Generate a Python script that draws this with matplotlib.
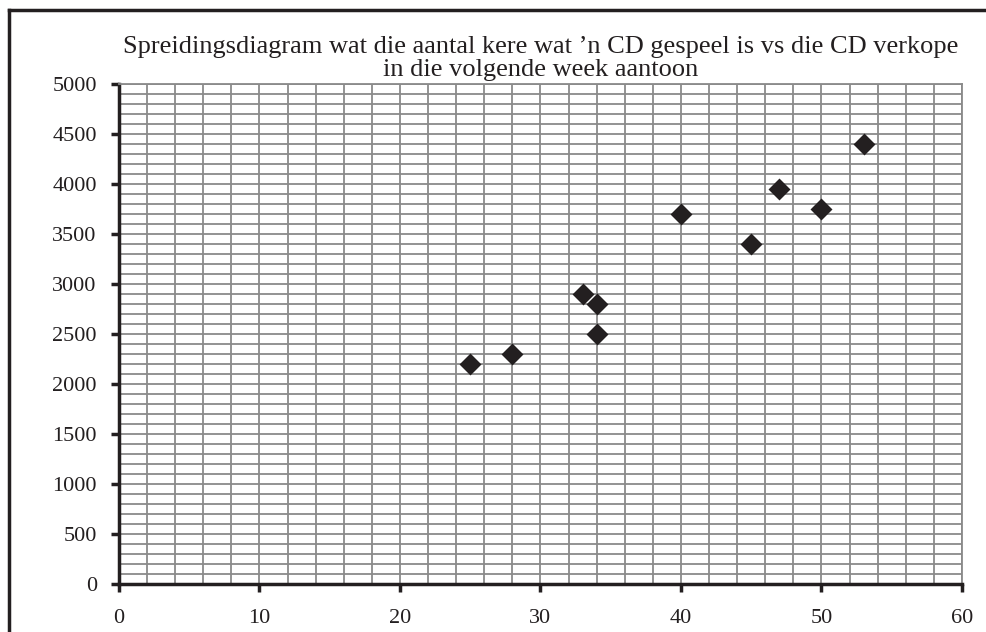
import matplotlib
matplotlib.use('Agg')
import matplotlib.pyplot as plt
from matplotlib.lines import Line2D
from matplotlib.ticker import MultipleLocator

# Times played vs CD sales in the following week
times_played = [25, 28, 33, 34, 34, 40, 45, 47, 50, 53]
cd_sales = [2200, 2300, 2900, 2800, 2500, 3700, 3400, 3950, 3750, 4400]

x_ticks = [0, 10, 20, 30, 40, 50, 60]
y_ticks = [0, 500, 1000, 1500, 2000, 2500, 3000, 3500, 4000, 4500, 5000]

title = ("Spreidingsdiagram wat die aantal kere wat \u2019n CD gespeel is vs die CD verkope\n"
         "in die volgende week aantoon")

ink = '#231f20'
grid_col = '#8a8a8a'

plt.rcParams['font.family'] = ['Liberation Serif', 'DejaVu Serif']

fig = plt.figure(figsize=(9.87, 6.32), dpi=100)
ax = fig.add_axes([119 / 987, 48 / 632, 843 / 987, 500 / 632])

ax.scatter(times_played, cd_sales, marker='D', s=125, color=ink, zorder=3, linewidths=0)

ax.set_xlim(0, 60)
ax.set_ylim(0, 5000)
ax.set_xticks(x_ticks)
ax.set_yticks(y_ticks)
ax.xaxis.set_minor_locator(MultipleLocator(2))
ax.yaxis.set_minor_locator(MultipleLocator(100))

ax.grid(which='both', color=grid_col, linewidth=1.3)
ax.set_axisbelow(True)

for side in ['top', 'right']:
    ax.spines[side].set_color(grid_col)
    ax.spines[side].set_linewidth(1.3)
for side in ['left', 'bottom']:
    ax.spines[side].set_color(ink)
    ax.spines[side].set_linewidth(2.5)

ax.tick_params(which='major', direction='out', length=6, width=2.5, color=ink,
               labelsize=16, labelcolor=ink)
ax.tick_params(axis='y', pad=10)
ax.tick_params(axis='x', pad=12)
ax.tick_params(which='minor', length=0)

ax.set_title(title, fontsize=19, color=ink, pad=6, linespacing=1.05)

# frame round the whole chart
fig.add_artist(Line2D([9 / 987, 9 / 987], [0, 1 - 10 / 632], color=ink, lw=2.5))
fig.add_artist(Line2D([9 / 987, 1], [1 - 10 / 632, 1 - 10 / 632], color=ink, lw=2.5))

fig.savefig('out.png', dpi=100)
